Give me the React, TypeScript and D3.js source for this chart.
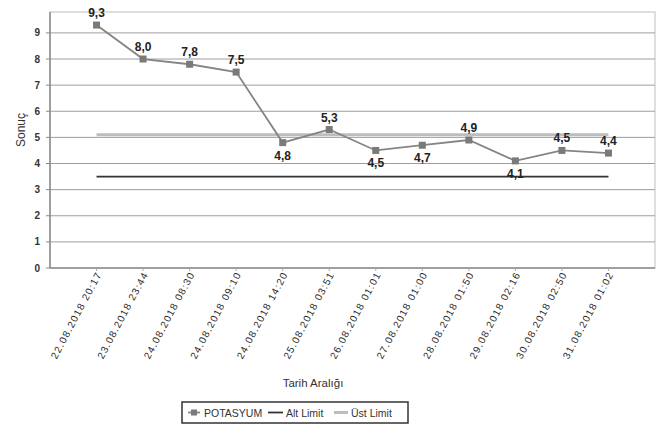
import React from "react";
import * as d3 from "d3";

const categories = [
  "22.08.2018 20:17",
  "23.08.2018 23:44",
  "24.08.2018 08:30",
  "24.08.2018 09:10",
  "24.08.2018 14:20",
  "25.08.2018 03:51",
  "26.08.2018 01:01",
  "27.08.2018 01:00",
  "28.08.2018 01:50",
  "29.08.2018 02:16",
  "30.08.2018 02:50",
  "31.08.2018 01:02",
];
const potasyum = [9.3, 8.0, 7.8, 7.5, 4.8, 5.3, 4.5, 4.7, 4.9, 4.1, 4.5, 4.4];
const labelBelow = [false, false, false, false, true, false, true, true, false, true, false, false];
const altLimit = 3.5;
const ustLimit = 5.1;
const yTicks = [0, 1, 2, 3, 4, 5, 6, 7, 8, 9];
const legendItems = ["POTASYUM", "Alt Limit", "Üst Limit"];

const W = 664;
const H = 425;
const left = 50;
const right = 655;
const top = 12;
const bottom = 268;

export default function App() {
  const x = d3.scalePoint<string>().domain(categories).range([left, right]).padding(1);
  const y = d3.scaleLinear().domain([0, 9.8]).range([bottom, top]);
  const line = d3
    .line<number>()
    .x((_, i) => x(categories[i]) as number)
    .y((d) => y(d));
  const x0 = x(categories[0]) as number;
  const x1 = x(categories[categories.length - 1]) as number;
  const font = "'Liberation Sans', Arial, sans-serif";

  return (
    <div style={{ position: "absolute", left: 0, top: 0 }}>
      <svg width={W} height={H} style={{ display: "block", background: "#fff" }} fontFamily={font}>
        <rect x={left} y={top} width={right - left} height={bottom - top} fill="none" stroke="#d4d4d4" strokeWidth={1.5} />
        {yTicks.map((t) => (
          <g key={t}>
            {t > 0 && (
              <line x1={left} x2={right} y1={y(t)} y2={y(t)} stroke="#9e9e9e" strokeWidth={1} />
            )}
            <line x1={left - 4} x2={left} y1={y(t)} y2={y(t)} stroke="#888" strokeWidth={1} />
            <text x={40} y={y(t)} dy="0.35em" textAnchor="end" fontSize={10} fontWeight="bold" fill="#333">
              {t}
            </text>
          </g>
        ))}
        <line x1={left} x2={left} y1={top} y2={bottom} stroke="#8a8a8a" strokeWidth={1.5} />
        <line x1={left} x2={right} y1={bottom} y2={bottom} stroke="#8a8a8a" strokeWidth={1.5} />
        {categories.map((c) => (
          <line key={c} x1={x(c)} x2={x(c)} y1={bottom} y2={bottom + 3} stroke="#aaa" strokeWidth={1} />
        ))}
        <line x1={x0} x2={x1} y1={y(ustLimit)} y2={y(ustLimit)} stroke="#bdbdbd" strokeWidth={3} />
        <line x1={x0} x2={x1} y1={y(altLimit)} y2={y(altLimit)} stroke="#333" strokeWidth={1.8} />
        <path d={line(potasyum) || ""} fill="none" stroke="#858585" strokeWidth={1.8} />
        {potasyum.map((v, i) => (
          <rect
            key={i}
            x={(x(categories[i]) as number) - 3.5}
            y={y(v) - 3.5}
            width={7}
            height={7}
            fill="#7a7a7a"
          />
        ))}
        {potasyum.map((v, i) => (
          <text
            key={"l" + i}
            x={x(categories[i]) as number}
            y={y(v) + (labelBelow[i] ? 17 : -8)}
            textAnchor="middle"
            fontSize={12}
            fontWeight="bold"
            fill="#222"
          >
            {v.toFixed(1).replace(".", ",")}
          </text>
        ))}
        {categories.map((c) => (
          <text
            key={"x" + c}
            transform={`translate(${(x(c) as number) + 5},${bottom + 7}) rotate(-62)`}
            textAnchor="end"
            fontSize={10}
            textLength={96}
            lengthAdjust="spacing"
            fill="#2a2a2a"
          >
            {c}
          </text>
        ))}
        <text x={313} y={387} textAnchor="middle" fontSize={11.5} fill="#333">
          Tarih Aralığı
        </text>
        <text transform={`translate(25,${(top + bottom) / 2 - 10}) rotate(-90)`} textAnchor="middle" fontSize={12} fill="#333">
          Sonuç
        </text>
        <rect x={182} y={402} width={226} height={21} fill="#fff" stroke="#333" strokeWidth={1.5} />
        <line x1={188} x2={200} y1={412.5} y2={412.5} stroke="#858585" strokeWidth={1.8} />
        <rect x={191} y={409.5} width={6} height={6} fill="#7a7a7a" />
        <text x={204} y={416.5} fontSize={10.5} fill="#333">{legendItems[0]}</text>
        <line x1={268} x2={283} y1={412.5} y2={412.5} stroke="#333" strokeWidth={1.8} />
        <text x={286} y={416.5} fontSize={10.5} fill="#333">{legendItems[1]}</text>
        <line x1={334} x2={348} y1={412.5} y2={412.5} stroke="#bdbdbd" strokeWidth={3} />
        <text x={351} y={416.5} fontSize={10.5} fill="#333">{legendItems[2]}</text>
      </svg>
    </div>
  );
}
